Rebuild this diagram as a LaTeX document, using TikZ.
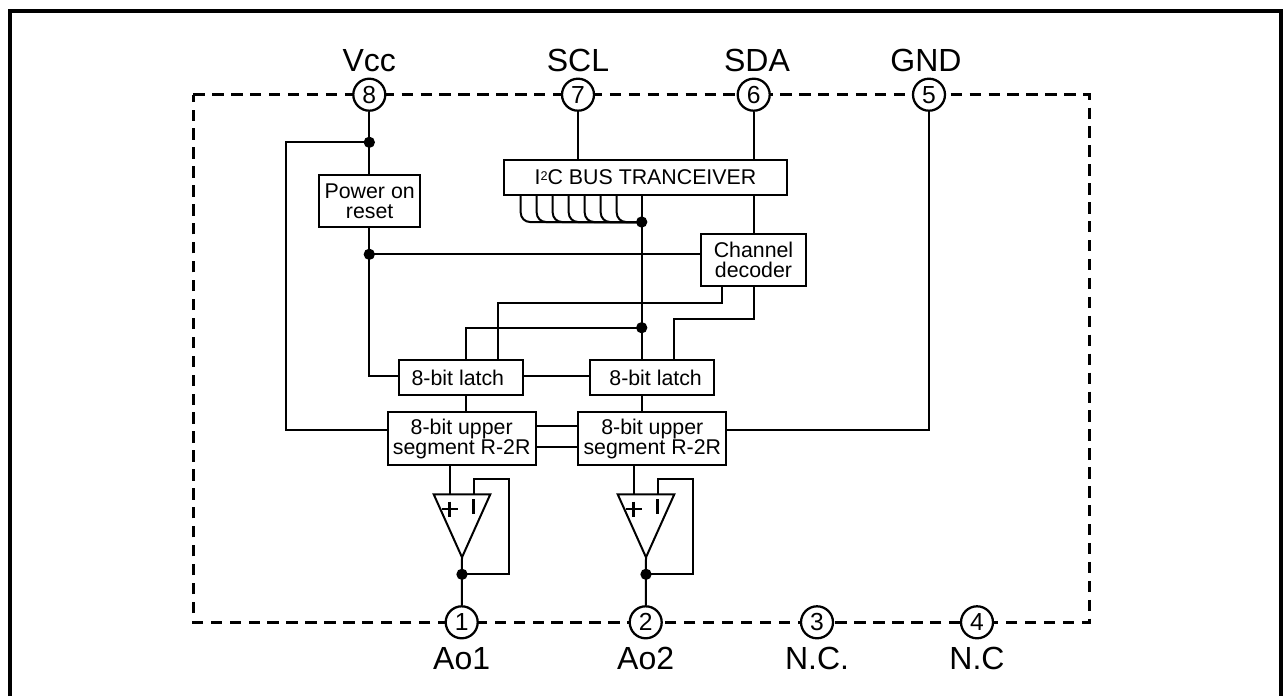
\documentclass[tikz,border=0pt]{standalone}
\usepackage{fontspec}
\setmainfont{Liberation Sans}
\newcommand{\fsmall}{\fontsize{16}{15}\selectfont}
\newcommand{\fpin}{\fontsize{18.5}{20}\selectfont}
\newcommand{\flabel}{\fontsize{24}{26}\selectfont}
\tikzset{
  wire/.style={line width=1.5pt,line join=miter},
  box/.style={draw,line width=1.5pt,fill=white,inner sep=0pt,align=center,font=\fsmall},
  pin/.style={draw,circle,line width=1.7pt,fill=white,minimum size=24pt,inner sep=0pt,font=\fpin},
  pinlabel/.style={font=\flabel,inner sep=0pt,anchor=base},
  dotnode/.style={circle,fill=black,minimum size=8.5pt,inner sep=0pt},
  amp/.style={draw,line width=1.5pt,fill=white,line join=miter}
}
\newcommand{\boxat}[6]{\node[box,minimum width=#4*0.75pt,minimum height=#5*0.75pt] (#1) at (#2,#3) {#6};}
\begin{document}
\begin{tikzpicture}[x=0.75pt,y=-0.75pt]
\useasboundingbox (0,0) rectangle (1288,696);
\fill[white] (0,0) rectangle (1288,696);
\draw[line width=3pt,line cap=butt,line join=miter] (9.5,696) -- (9.5,11) -- (1281,11) -- (1281,696);
\draw[line width=2.1pt,line join=miter,dash pattern=on 8.5pt off 5.7pt] (193.3,94.7) -- (1089.3,94.7) -- (1089.3,622.3) -- (193.3,622.3) -- cycle;

% pins
\node[pin] (p8) at (369.3,94.7) {8};
\node[pin] (p7) at (578,94.7) {7};
\node[pin] (p6) at (753.7,94.7) {6};
\node[pin] (p5) at (929,94.7) {5};
\node[pin] (p1) at (461.7,622.3) {1};
\node[pin] (p2) at (645.7,622.3) {2};
\node[pin] (p3) at (817,622.3) {3};
\node[pin] (p4) at (977,622.3) {4};
\node[pinlabel] at (369.3,71.7) {Vcc};
\node[pinlabel] at (578,71.7) {SCL};
\node[pinlabel] at (757,71.7) {SDA};
\node[pinlabel] at (926,71.7) {GND};
\node[pinlabel] at (461.7,669) {Ao1};
\node[pinlabel] at (645.7,669) {Ao2};
\node[pinlabel] at (817,669) {N.C.};
\node[pinlabel] at (977,669) {N.C};

% boxes
\boxat{por}{369.7}{201}{100.7}{52.7}{Power on\\reset}
\boxat{bus}{645.5}{177.5}{283}{35}{I\raisebox{3.2pt}{\fontsize{9.5}{10}\selectfont 2}C BUS TRANCEIVER}
\boxat{dec}{753.5}{260}{105}{52}{Channel\\decoder}
\boxat{la}{461.2}{377.5}{123.7}{35}{8-bit latch\hspace*{5pt}}
\boxat{lb}{652.3}{377.5}{124}{35}{\hspace*{5pt}8-bit latch}
\boxat{ra}{461.7}{438.7}{148}{52.7}{8-bit upper\\segment R-2R}
\boxat{rb}{652.3}{438.7}{148}{52.7}{8-bit upper\\segment R-2R}

% junctions
\coordinate (topj) at (369.3,142.3);
\coordinate (porj) at (369.3,254.3);
\coordinate (busj) at (641.7,222);
\coordinate (midj) at (641.7,327.7);
\coordinate (oa) at (462,574.3);
\coordinate (ob) at (646,574.3);

% wires
\draw[wire] (p8) -- (por.north -| p8);
\draw[wire] (topj) -- (286,142.3) -- (286,430.3) -- (ra.west |- 0,430.3);
\draw[wire] (p7) -- (bus.north -| p7);
\draw[wire] (p6) -- (bus.north -| p6);
\draw[wire] (p5) -- (929,430.3) -- (rb.east |- 0,430.3);
\draw[wire] (bus.south -| p6) -- (dec.north -| p6);
\draw[wire] (por.south -| p8) -- (369.3,375.7) -- (la.west |- 0,375.7);
\draw[wire] (porj) -- (dec.west |- porj);
\draw[wire] (bus.south -| busj) -- (lb.north -| busj);
\draw[wire] (dec.south -| 721.7,0) -- (721.7,302.7) -- (497.5,302.7) -- (la.north -| 497.5,0);
\draw[wire] (dec.south -| p6) -- (753.7,318.7) -- (673.5,318.7) -- (lb.north -| 673.5,0);
\draw[wire] (midj) -- (465.7,327.7) -- (la.north -| 465.7,0);
\draw[wire] (la.east |- 0,375.7) -- (lb.west |- 0,375.7);
\draw[wire] (la.south -| 465.7,0) -- (ra.north -| 465.7,0);
\draw[wire] (lb.south -| 641.7,0) -- (rb.north -| 641.7,0);
\draw[wire] (ra.east |- 0,425.7) -- (rb.west |- 0,425.7);
\draw[wire] (ra.east |- 0,446.7) -- (rb.west |- 0,446.7);
% bus fan
\foreach \x in {520.7,536.7,552.7,568.7,584.7,600.7,616.7}
  \draw[wire,rounded corners=7pt] (bus.south -| \x,0) -- (\x,222) -- (busj);

% amps
\foreach \xc/\xin/\xfb/\xr/\o/\r/\p in {462/449.5/473.5/509/oa/ra/p1,646/633.5/657.5/693/ob/rb/p2}{
  \draw[wire] (\r.south -| \xin,0) -- (\xin,494.3);
  \draw[wire] (\xfb,494.3) -- (\xfb,478.7) -- (\xr,478.7) -- (\xr,574.3) -- (\o);
  \draw[amp] (\xc-28.3,494.3) -- (\xc+28.3,494.3) -- (\xc,557.3) -- cycle;
  \draw[wire] (\xc,557.3) -- (\p);
  \draw[line width=2.2pt] (\xin,501.5) -- (\xin,516.5) (\xin-8,509) -- (\xin+8,509);
  \draw[line width=2.2pt] (\xfb,499) -- (\xfb,514);
  \node[dotnode] at (\o) {};
}
\node[dotnode] at (topj) {};
\node[dotnode] at (porj) {};
\node[dotnode] at (busj) {};
\node[dotnode] at (midj) {};
\end{tikzpicture}
\end{document}
